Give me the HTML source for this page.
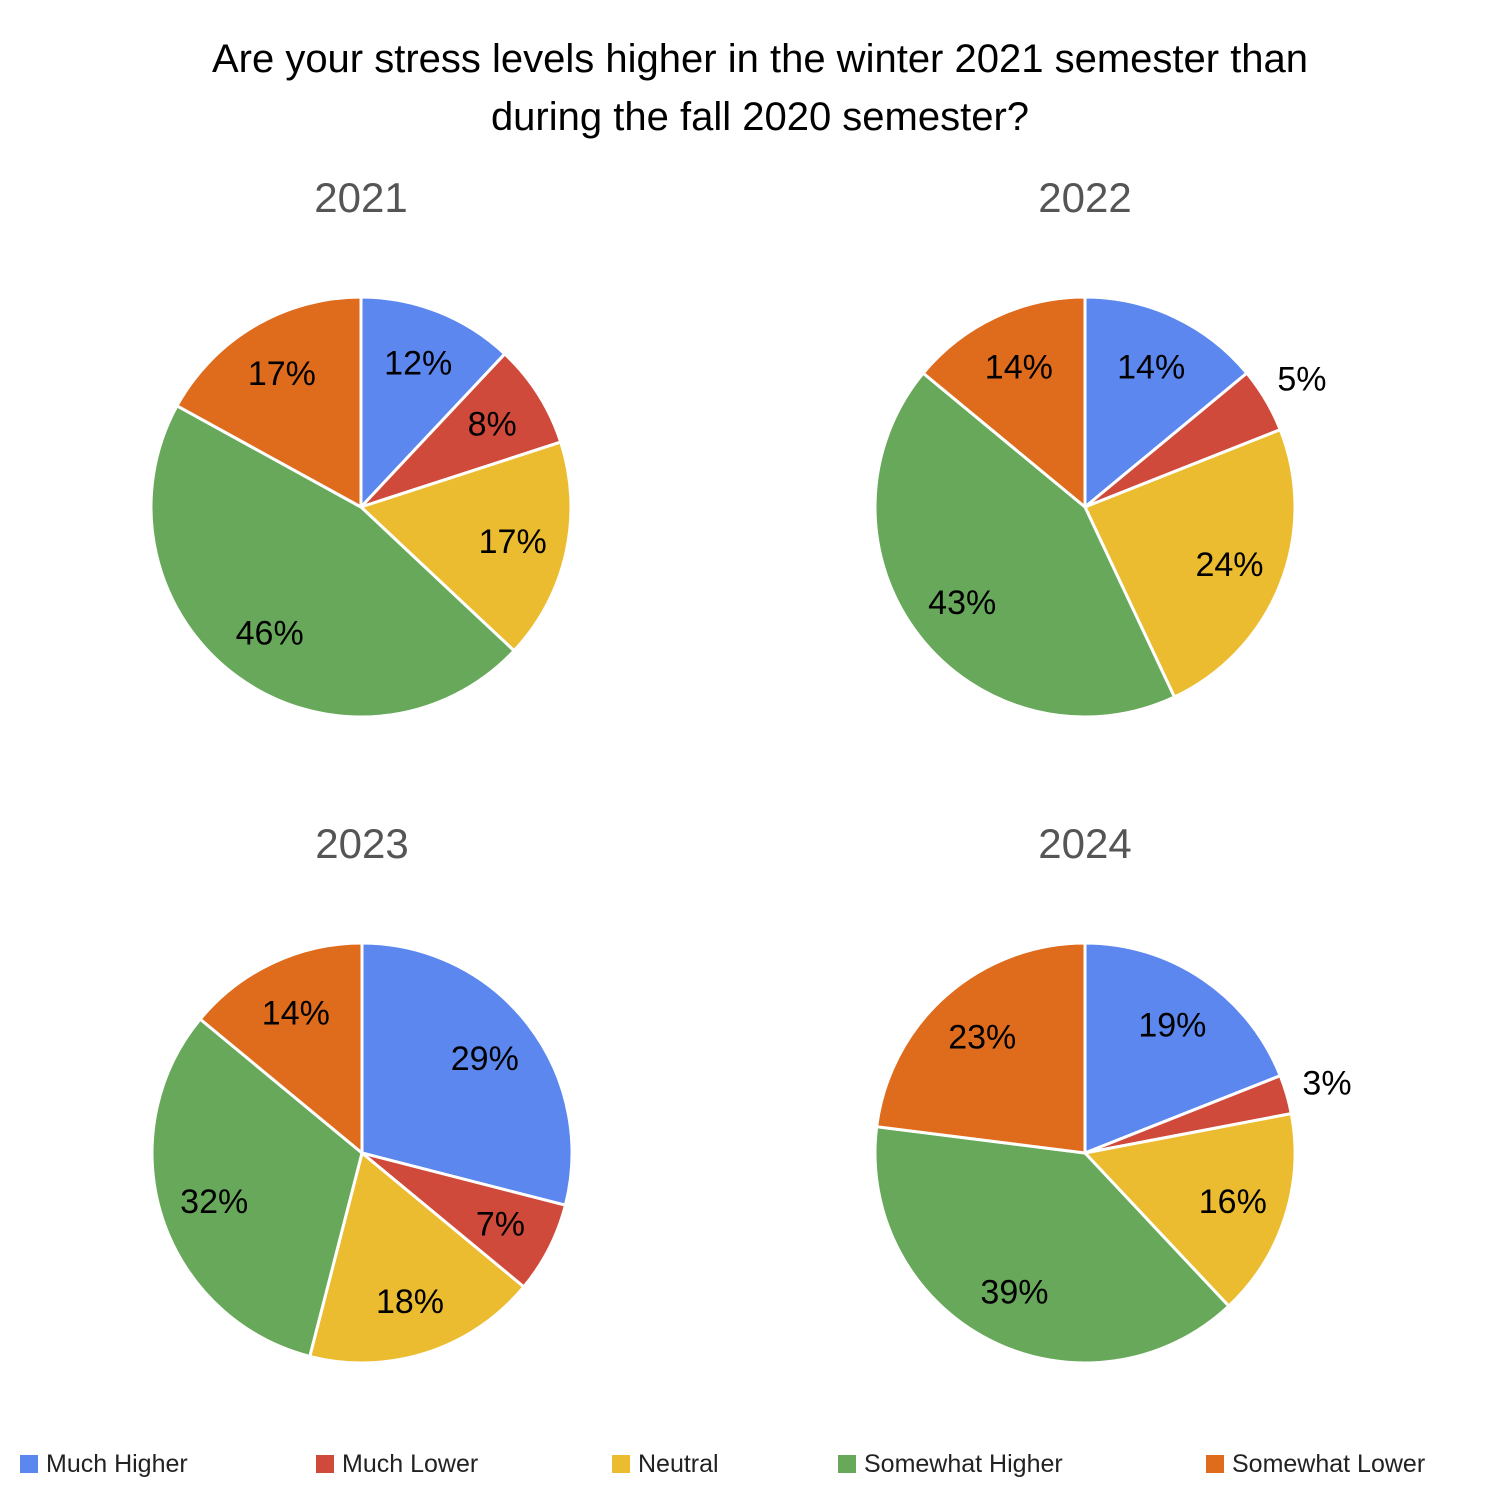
<!DOCTYPE html>
<html><head><meta charset="utf-8"><style>
body{margin:0;background:#fff;}
svg{display:block;font-family:"Liberation Sans",Arial,sans-serif;}
</style></head><body>
<svg id="chart" width="1501" height="1501" viewBox="0 0 1501 1501">
<text x="760" y="72" font-size="40" text-anchor="middle" fill="#000">Are your stress levels higher in the winter 2021 semester than</text>
<text x="760" y="130" font-size="40" text-anchor="middle" fill="#000">during the fall 2020 semester?</text>
<g id="pies"></g>
<g id="legend"></g>
</svg>
<script>
const categories = ["Much Higher","Much Lower","Neutral","Somewhat Higher","Somewhat Lower"];
const colors = ["#5b87ee","#d04a3b","#ebbb30","#68a85a","#df6b1c"];
const years = ["2021","2022","2023","2024"];
const values2021 = [12,8,17,46,17];
const values2022 = [14,5,24,43,14];
const values2023 = [29,7,18,32,14];
const values2024 = [19,3,16,39,23];
const allValues = [values2021,values2022,values2023,values2024];
const centers = [[361,507],[1085,507],[362,1153],[1085,1153]];
const R = 210;
const NS = "http://www.w3.org/2000/svg";
const pies = document.getElementById('pies');
function mk(tag, attrs){const e=document.createElementNS(NS,tag);for(const k in attrs)e.setAttribute(k,attrs[k]);return e;}
function pt(cx,cy,r,a){return [cx+r*Math.sin(a), cy-r*Math.cos(a)];}
years.forEach((yr,i)=>{
  const vals = allValues[i];
  const [cx,cy] = centers[i];
  const total = vals.reduce((a,b)=>a+b,0);
  const g = mk('g',{});
  
  
  pies.appendChild(g);
  const t = mk('text',{x:cx,y:cy-295,'font-size':42,'text-anchor':'middle',fill:'#555'});
  
  
  t.textContent = yr;
  g.appendChild(t);
  let a0 = 0;
  vals.forEach((v,j)=>{
    const a1 = a0 + v/total*2*Math.PI;
    const p0 = pt(cx,cy,R,a0), p1 = pt(cx,cy,R,a1);
    const large = (a1-a0)>Math.PI?1:0;
    const path = mk('path',{d:`M${cx},${cy} L${p0[0]},${p0[1]} A${R},${R} 0 ${large} 1 ${p1[0]},${p1[1]} Z`,fill:colors[j],stroke:'#fff','stroke-width':3,'stroke-linejoin':'round'});
    
    
    g.appendChild(path);
    a0 = a1;
  });
  a0 = 0;
  vals.forEach((v,j)=>{
    const a1 = a0 + v/total*2*Math.PI;
    const mid = (a0+a1)/2;
    const outside = v < 6;
    const lp = pt(cx,cy,outside?R*1.2:R*0.74,mid);
    const lt = mk('text',{x:lp[0],y:lp[1]+12,'font-size':34,'text-anchor':'middle',fill:'#000'});
    
    
    lt.textContent = v+'%';
    g.appendChild(lt);
    a0 = a1;
  });
});
const legend = document.getElementById('legend');
const legendX = [20,316,612,838,1206];
categories.forEach((c,j)=>{
  const g = mk('g',{});
  
  
  g.appendChild(mk('rect',{x:legendX[j],y:1455,width:18,height:18,fill:colors[j]}));
  const t = mk('text',{x:legendX[j]+26,y:1472,'font-size':25,fill:'#222'});
  t.textContent = c;
  g.appendChild(t);
  legend.appendChild(g);
});
</script>
</body></html>
